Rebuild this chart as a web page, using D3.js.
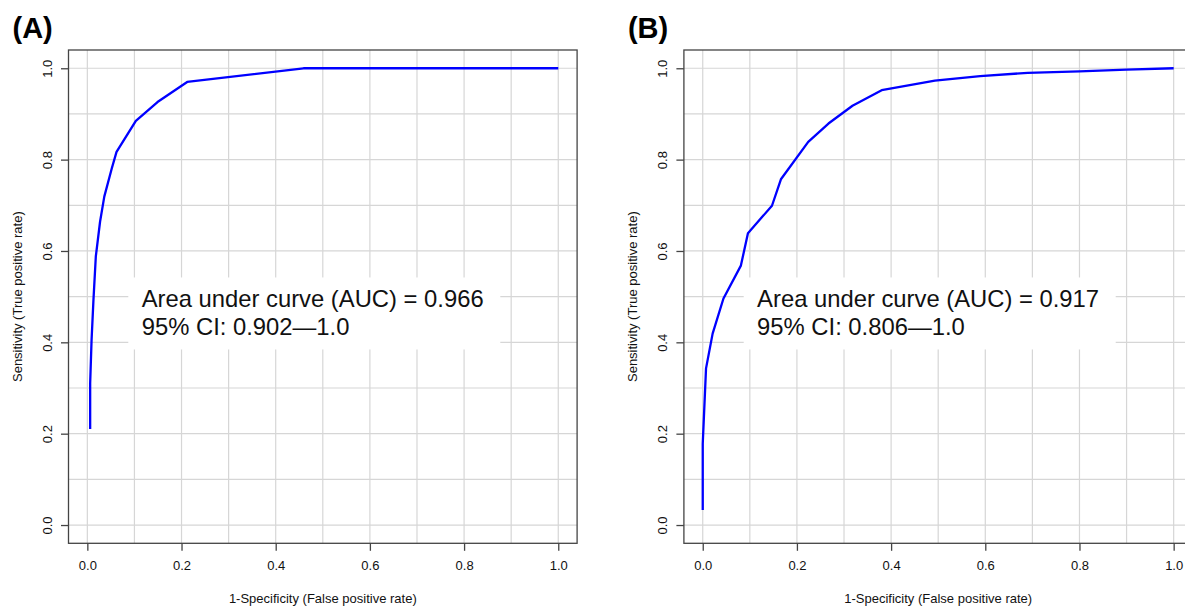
<!DOCTYPE html>
<html>
<head>
<meta charset="utf-8">
<script src="https://cdn.jsdelivr.net/npm/d3@7"></script>
<style>
  body { margin: 0; background: white; }
  svg { display: block; font-family: "Liberation Sans", Arial, sans-serif; }
</style>
</head>
<body>
<svg id="chart" width="1185" height="607"></svg>
<script>
// ROC curve points
const fprA = [0.006, 0.006, 0.009, 0.013, 0.018, 0.027, 0.036, 0.052, 0.062, 0.103, 0.149, 0.212, 0.459, 1.0];
const tprA = [0.210, 0.310, 0.405, 0.493, 0.588, 0.664, 0.719, 0.781, 0.817, 0.885, 0.926, 0.970, 1.0, 1.0];

const fprB = [0.0, 0.0, 0.007, 0.021, 0.044, 0.081, 0.096, 0.147, 0.166, 0.224, 0.267, 0.318, 0.380, 0.493, 0.589, 0.69, 0.8, 0.9, 1.0];
const tprB = [0.033, 0.178, 0.343, 0.419, 0.496, 0.568, 0.639, 0.699, 0.757, 0.839, 0.879, 0.918, 0.952, 0.973, 0.983, 0.990, 0.993, 0.997, 1.0];

const panelLabels = ["(A)", "(B)"];
const aucText = ["Area under curve (AUC) = 0.966", "Area under curve (AUC) = 0.917"];
const ciText = ["95% CI: 0.902\u20141.0", "95% CI: 0.806\u20141.0"];

const tickValues = [0, 0.2, 0.4, 0.6, 0.8, 1.0];
const gridValues = d3.range(0, 11).map(i => i / 10);

const xTitle = "1-Specificity (False positive rate)";
const yTitle = "Sensitivity (True positive rate)";

const svg = d3.select("#chart");

const boxW = 508.6, boxTop = 50, boxBottom = 543.3;
const panels = [
  { left: 68.5, fpr: fprA, tpr: tprA },
  { left: 683.9, fpr: fprB, tpr: tprB }
];

panels.forEach((p, i) => {
  const x = d3.scaleLinear().domain([-0.04, 1.04]).range([p.left, p.left + boxW]);
  const y = d3.scaleLinear().domain([-0.04, 1.04]).range([boxBottom, boxTop]);
  const g = svg.append("g");

  // grid
  g.append("g").selectAll("line").data(gridValues).join("line")
    .attr("x1", d => x(d)).attr("x2", d => x(d))
    .attr("y1", boxTop).attr("y2", boxBottom)
    .attr("stroke", "#d6d6d6").attr("stroke-width", 1.2);
  g.append("g").selectAll("line").data(gridValues).join("line")
    .attr("y1", d => y(d)).attr("y2", d => y(d))
    .attr("x1", p.left).attr("x2", p.left + boxW)
    .attr("stroke", "#d6d6d6").attr("stroke-width", 1.2);

  // curve
  const pts = p.fpr.map((f, k) => [f, p.tpr[k]]);
  g.append("path").datum(pts)
    .attr("fill", "none").attr("stroke", "#0000ff").attr("stroke-width", 2.3)
    .attr("stroke-linejoin", "round")
    .attr("d", d3.line().x(d => x(d[0])).y(d => y(d[1])));

  // legend box with white background
  const lx = x(0.087), ly = y(0.542);
  g.append("rect").attr("x", lx).attr("y", ly).attr("width", 372).attr("height", 72).attr("fill", "white");
  g.append("text").attr("x", lx + 13.4).attr("y", ly + 29.5)
    .attr("font-size", "23.8px").attr("fill", "#111").text(aucText[i]);
  g.append("text").attr("x", lx + 13.4).attr("y", ly + 57.8)
    .attr("font-size", "23.8px").attr("fill", "#111").text(ciText[i]);

  // box
  g.append("rect").attr("x", p.left).attr("y", boxTop)
    .attr("width", boxW).attr("height", boxBottom - boxTop)
    .attr("fill", "none").attr("stroke", "#444").attr("stroke-width", 1.3);

  // axes
  const xAxis = d3.axisBottom(x).tickValues(tickValues).tickFormat(d3.format(".1f")).tickSize(7.5).tickPadding(10);
  const ax = g.append("g").attr("transform", `translate(0,${boxBottom})`).call(xAxis);
  ax.select(".domain").remove();
  ax.selectAll("line").attr("stroke", "#444").attr("stroke-width", 1.3);
  ax.selectAll("text").attr("font-size", "13px").attr("fill", "#111").attr("font-family", "Liberation Sans, Arial, sans-serif");

  const yAxis = d3.axisLeft(y).tickValues(tickValues).tickFormat(d3.format(".1f")).tickSize(7.5).tickPadding(0);
  const ay = g.append("g").attr("transform", `translate(${p.left},0)`).call(yAxis);
  ay.select(".domain").remove();
  ay.selectAll("line").attr("stroke", "#444").attr("stroke-width", 1.3);
  ay.selectAll("text")
    .attr("font-size", "13px").attr("fill", "#111").attr("font-family", "Liberation Sans, Arial, sans-serif")
    .attr("x", null).attr("dy", null)
    .attr("text-anchor", "middle")
    .attr("transform", "translate(-16.5,0) rotate(-90)");

  // titles
  g.append("text").attr("x", p.left + boxW / 2).attr("y", 603)
    .attr("text-anchor", "middle").attr("font-size", "13px").attr("fill", "#111").text(xTitle);
  g.append("text")
    .attr("transform", `translate(${p.left - 46.5},${(boxTop + boxBottom) / 2}) rotate(-90)`)
    .attr("text-anchor", "middle").attr("font-size", "13px").attr("fill", "#111").text(yTitle);

  g.append("text").attr("x", p.left - 56).attr("y", 37.5)
    .attr("font-size", "29px").attr("font-weight", "bold").attr("fill", "#000").text(panelLabels[i]);
});
</script>
</body>
</html>
